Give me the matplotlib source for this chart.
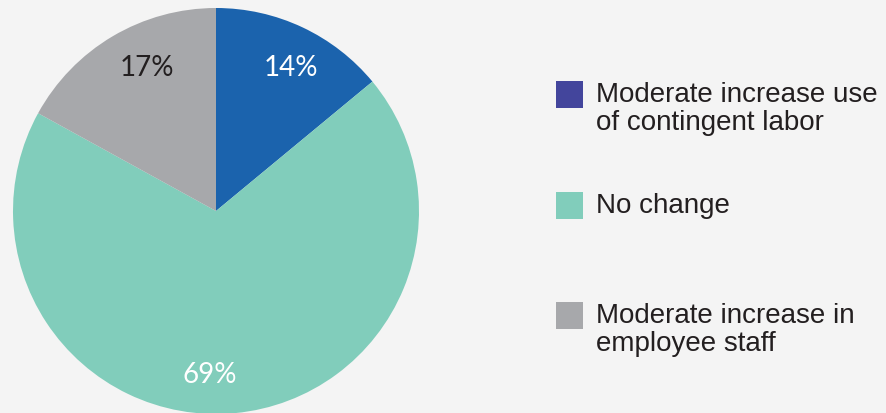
import numpy as np
import matplotlib.pyplot as plt
import matplotlib.patches as mpatches

# -- data --
categories = ['Moderate increase use\nof contingent labor', 'No change',
              'Moderate increase in\nemployee staff']
shares = [14, 69, 17]
pieColors = ['#1b63ad', '#81cdbb', '#a7a8ab']
legendColors = ['#43459c', '#81cdbb', '#a7a8ab']
labelColors = ['white', 'white', '#231f20']

W, H = 887, 413
fig = plt.figure(figsize=(W/100, H/100), dpi=100, facecolor='#f4f4f4')
ax = fig.add_axes([0, 0, 1, 1])

cx, cy, r = 216, H-211, 203
wedges, _ = ax.pie(shares, colors=pieColors, startangle=90, counterclock=False,
                   center=(cx, cy), radius=r, frame=True)
ax.set_xlim(0, W)
ax.set_ylim(0, H)
ax.set_aspect('equal')
ax.axis('off')

# -- percent labels (pixel offsets from the pie centre) --
labelOffsets = [(75, 143), (-6, -164), (-69, 143)]
for (dx, dy), val, col in zip(labelOffsets, shares, labelColors):
    ax.text(cx + dx, cy + dy, '{}%'.format(val), ha='center', va='center',
            color=col, fontsize=20, family='Lato')

# -- legend --
sq = 27
legY = [81, 192, 302]
for ypos, lab, col in zip(legY, categories, legendColors):
    ax.add_patch(mpatches.Rectangle((556, H-ypos-sq), sq, sq, color=col, lw=0))
    ax.text(596, H-ypos-1, lab, ha='left', va='top', fontsize=20,
            family='Liberation Sans', color='#231f20', linespacing=1.12)

plt.savefig('out.png', dpi=100, facecolor=fig.get_facecolor())
